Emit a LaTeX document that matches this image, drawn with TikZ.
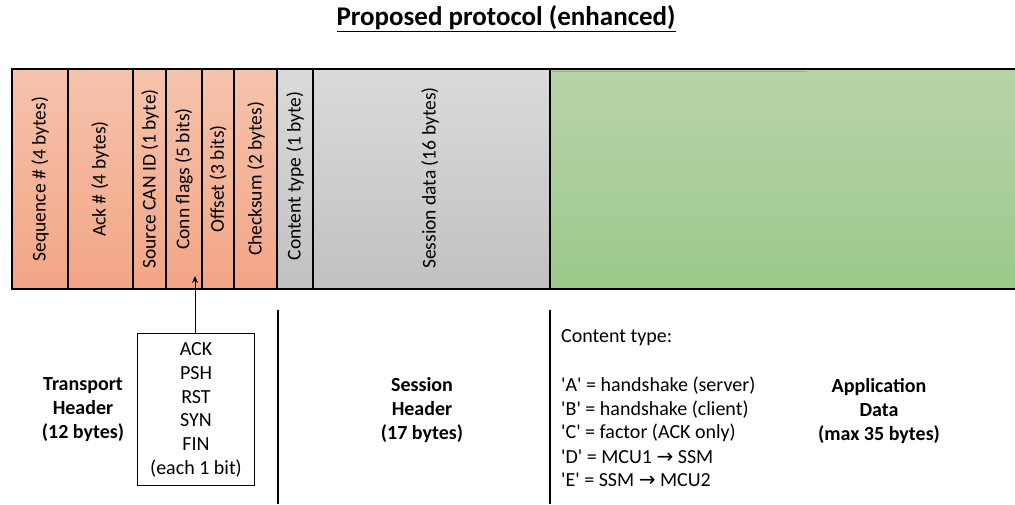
\documentclass[tikz,border=0pt]{standalone}
\usepackage{fontspec}
\setmainfont{Carlito}
\newfontfamily\arrowfont{DejaVu Sans}
\usetikzlibrary{arrows.meta}
\definecolor{orTop}{HTML}{F6C3AC}
\definecolor{orBot}{HTML}{F2A585}
\definecolor{grTop}{HTML}{DADADA}
\definecolor{grBot}{HTML}{C1C1C1}
\definecolor{gnTop}{HTML}{B7D4A9}
\definecolor{gnBot}{HTML}{9CC98A}
\newcommand\sq{\textquotesingle}
\newcommand\toarrow{{\arrowfont\fontsize{20}{20}\selectfont →}}
\tikzset{
  field/.style={draw=black, line width=2pt},
  orfield/.style={field, top color=orTop, bottom color=orBot},
  grfield/.style={field, top color=grTop, bottom color=grBot},
  gnfield/.style={field, top color=gnTop, bottom color=gnBot},
  vlabel/.style={rotate=90, font=\fontsize{19.5}{22}\selectfont, inner sep=0pt},
  seclabel/.style={font=\fontsize{20}{24}\selectfont\bfseries, align=center},
  divider/.style={line width=2.5pt},
  plain/.style={font=\fontsize{20}{24}\selectfont, anchor=west, inner sep=0pt},
}
\begin{document}
\begin{tikzpicture}[x=1pt,y=-1pt]
\useasboundingbox (0,0) rectangle (1015,504);

% title
\node (title) at (506,19) {\fontsize{27}{30}\selectfont\bfseries\underline{Proposed protocol (enhanced)}};

% transport header fields
\draw[orfield] (12,69) rectangle (68,289);
\draw[orfield] (68,69) rectangle (133,289);
\draw[orfield] (133,69) rectangle (166,289);
\draw[orfield] (166,69) rectangle (202,289);
\draw[orfield] (202,69) rectangle (234,289);
\draw[orfield] (234,69) rectangle (277,289);
% session header fields
\draw[grfield] (277,69) rectangle (313,289);
\draw[grfield] (313,69) rectangle (550,289);
% application data
\draw[gnfield] (550,69) rectangle (1018,289);
\draw[gray!70, line width=1pt] (551.5,71) -- (807,71);

\node[vlabel] (seq) at (40,179) {Sequence \# (4 bytes)};
\node[vlabel] (ack) at (100,179) {Ack \# (4 bytes)};
\node[vlabel] (src) at (150,179) {Source CAN ID (1 byte)};
\node[vlabel] (flags) at (184,179) {Conn flags (5 bits)};
\node[vlabel] (off) at (218,179) {Offset (3 bits)};
\node[vlabel] (chk) at (256,179) {Checksum (2 bytes)};
\node[vlabel] (ctype) at (295,176) {Content type (1 byte)};
\node[vlabel] (sdata) at (430,178) {Session data (16 bytes)};

% flag list
\node[draw=black, line width=1pt, minimum width=117pt, minimum height=152pt, inner sep=0pt]
  (flagbox) at (195.5,409) {};
\node[font=\fontsize{20}{23.8}\selectfont, align=center, anchor=north] (flagtext) at (196,339)
  {ACK\\PSH\\RST\\SYN\\FIN\\(each 1 bit)};
\coordinate (flagtip) at (195,276);
\draw[line width=1pt, -{Stealth[length=7pt,width=6pt]}] (flagbox.north -| flagtip) -- (flagtip);

% section dividers
\coordinate (d1t) at (278,310);
\coordinate (d1b) at (278,504);
\coordinate (d2t) at (550,310);
\coordinate (d2b) at (550,504);
\draw[divider] (d1t) -- (d1b);
\draw[divider] (d2t) -- (d2b);

% section labels
\node[seclabel] (trans) at (83,410) {Transport\\Header\\(12 bytes)};
\node[seclabel] (sess) at (422,410) {Session\\Header\\(17 bytes)};
\node[seclabel] (app) at (879,411) {Application\\Data\\(max 35 bytes)};

% content type legend
\node[plain] (cthead) at (561,338) {Content type:};
\node[plain] (ctA) at (561,386) {\sq A\sq{} = handshake (server)};
\node[plain] (ctB) at (561,409.5) {\sq B\sq{} = handshake (client)};
\node[plain] (ctC) at (561,433) {\sq C\sq{} = factor (ACK only)};
\node[plain] (ctD) at (561,456.5) {\sq D\sq{} = MCU1 \toarrow{} SSM};
\node[plain] (ctE) at (561,480) {\sq E\sq{} = SSM \toarrow{} MCU2};
\end{tikzpicture}
\end{document}
